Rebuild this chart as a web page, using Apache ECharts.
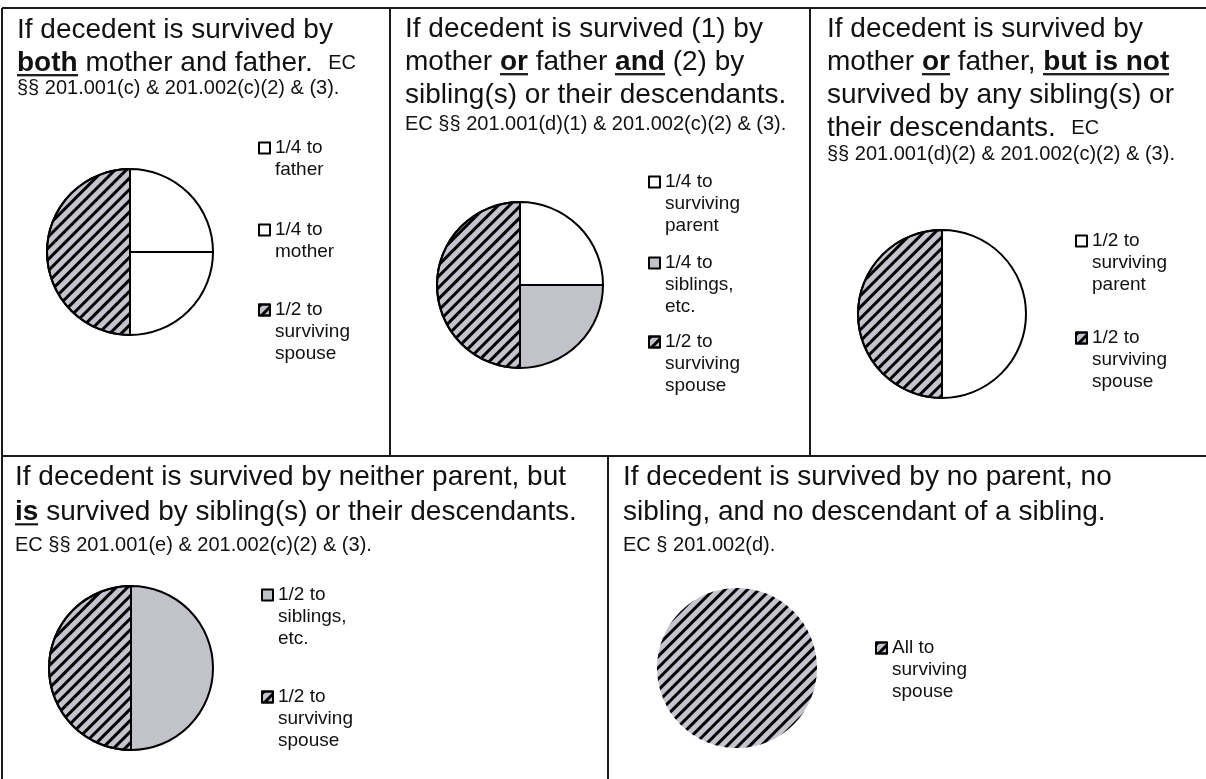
<!DOCTYPE html>
<html><head><meta charset="utf-8">
<script src="https://cdn.jsdelivr.net/npm/echarts@6/dist/echarts.min.js"></script>
<style>html,body{margin:0;padding:0;background:#fff}#c{width:1206px;height:779px}</style>
</head><body><div id="c"></div>
<script>
// ---------- data ----------
const p1Names = ['1/4 to\nfather', '1/4 to\nmother', '1/2 to\nsurviving\nspouse'];
const p1Shares = [0.25, 0.25, 0.5];
const p1Fills = ['plain', 'plain', 'hatch'];

const p2Names = ['1/4 to\nsurviving\nparent', '1/4 to\nsiblings,\netc.', '1/2 to\nsurviving\nspouse'];
const p2Shares = [0.25, 0.25, 0.5];
const p2Fills = ['plain', 'dots', 'hatch'];

const p3Names = ['1/2 to\nsurviving\nparent', '1/2 to\nsurviving\nspouse'];
const p3Shares = [0.5, 0.5];
const p3Fills = ['plain', 'hatch'];

const p4Names = ['1/2 to\nsiblings,\netc.', '1/2 to\nsurviving\nspouse'];
const p4Shares = [0.5, 0.5];
const p4Fills = ['dots', 'hatch'];

const p5Names = ['All to\nsurviving\nspouse'];
const p5Shares = [1];
const p5Fills = ['hatch'];

const p1Title = 'If decedent is survived by\n{bu|both} mother and father.  {c|EC}\n{c|§§ 201.001(c) & 201.002(c)(2) & (3).}';
const p2Title = 'If decedent is survived (1) by\nmother {bu|or} father {bu|and} (2) by\nsibling(s) or their descendants.\n{c|EC §§ 201.001(d)(1) & 201.002(c)(2) & (3).}';
const p3Title = 'If decedent is survived by\nmother {bu|or} father, {bu|but is not}\nsurvived by any sibling(s) or\ntheir descendants.  {c|EC}\n{c|§§ 201.001(d)(2) & 201.002(c)(2) & (3).}';
const p4Title = 'If decedent is survived by neither parent, but\n{bu|is} survived by sibling(s) or their descendants.\n{c|EC §§ 201.001(e) & 201.002(c)(2) & (3).}';
const p5Title = 'If decedent is survived by no parent, no\nsibling, and no descendant of a sibling.\n{c|EC § 201.002(d).}';

// ---------- layout (positions / styles) ----------
const FONT = '"Liberation Sans", Arial, Helvetica, sans-serif';
const LH = 22;
const panels = [
  {names: p1Names, shares: p1Shares, fills: p1Fills, title: p1Title, tx: 17, ty: 14, tlh: 33, clh: 17, cx: 130, cy: 252, r: 83, lx: 258, ly: [148, 230, 310], border: 2},
  {names: p2Names, shares: p2Shares, fills: p2Fills, title: p2Title, tx: 405, ty: 13, tlh: 33, clh: 24, cx: 520, cy: 285, r: 83, lx: 648, ly: [182, 263, 342], border: 2},
  {names: p3Names, shares: p3Shares, fills: p3Fills, title: p3Title, tx: 827, ty: 13, tlh: 33, clh: 18, cx: 942, cy: 314, r: 84, lx: 1075, ly: [241, 338], border: 2},
  {names: p4Names, shares: p4Shares, fills: p4Fills, title: p4Title, tx: 15, ty: 460, tlh: 35, clh: 30, cx: 131, cy: 668, r: 82, lx: 261, ly: [595, 697], border: 2},
  {names: p5Names, shares: p5Shares, fills: p5Fills, title: p5Title, tx: 623, ty: 460, tlh: 35, clh: 30, cx: 737, cy: 668, r: 80, lx: 875, ly: [648], border: 0}
];

// underline image for rich text tokens
function underlineImg(h) {
  const cv = document.createElement('canvas');
  cv.width = 8; cv.height = h;
  const g = cv.getContext('2d');
  g.fillStyle = '#111';
  g.fillRect(0, h - 4, 8, 2.5);
  return cv;
}

const hatchDecal = {symbol: 'rect', symbolSize: 1, dashArrayX: [1, 0], dashArrayY: [3, 5], rotation: -Math.PI / 4, color: '#000'};
function fillStyle(kind) {
  if (kind === 'hatch') return {color: '#c4c4cf', decal: hatchDecal};
  if (kind === 'dots') return {color: '#c2c2cb'};
  return {color: '#ffffff'};
}

const titles = [], series = [], legends = [];
panels.forEach((p, pi) => {
  titles.push({
    left: p.tx, top: p.ty, padding: 0,
    text: p.title,
    textStyle: {
      fontFamily: FONT, fontSize: 28, fontWeight: 'normal', color: '#111', lineHeight: p.tlh,
      rich: {
        bu: {fontFamily: FONT, fontSize: 28, fontWeight: 'bold', color: '#111', lineHeight: p.tlh, backgroundColor: {image: underlineImg(p.tlh)}},
        c: {fontFamily: FONT, fontSize: 20, color: '#111', lineHeight: p.clh}
      }
    }
  });
  series.push({
    type: 'pie', center: [p.cx, p.cy], radius: p.r, startAngle: 90, clockwise: true,
    animation: false, silent: true,
    label: {show: false}, labelLine: {show: false},
    itemStyle: {borderColor: '#000', borderWidth: p.border},
    data: p.names.map((n, i) => ({name: n, value: p.shares[i], itemStyle: fillStyle(p.fills[i])}))
  });
  p.names.forEach((n, i) => {
    const lines = n.split('\n').length;
    legends.push({
      orient: 'vertical', left: p.lx, top: p.ly[i] - LH / 2 - (lines - 1) * LH,
      padding: 0, itemWidth: 11, itemHeight: 11, selectedMode: false,
      itemStyle: {borderColor: '#000', borderWidth: 2},
      textStyle: {fontFamily: FONT, fontSize: 19, lineHeight: LH, color: '#111'},
      formatter: (name) => '\n'.repeat(lines - 1) + name,
      data: [{name: n, icon: 'rect'}]
    });
  });
});

const lineStyle = {stroke: '#1a1a1a', lineWidth: 2};
const frame = [
  [2, 8, 1206, 8], [2, 8, 2, 779], [390, 8, 390, 456], [810, 8, 810, 456],
  [2, 456, 1206, 456], [608, 456, 608, 779]
].map(a => ({type: 'line', silent: true, shape: {x1: a[0], y1: a[1], x2: a[2], y2: a[3]}, style: lineStyle}));

const chart = echarts.init(document.getElementById('c'), null, {renderer: 'canvas'});
chart.setOption({
  backgroundColor: '#ffffff',
  animation: false,
  title: titles,
  legend: legends,
  series: series,
  graphic: frame
});
</script></body></html>
